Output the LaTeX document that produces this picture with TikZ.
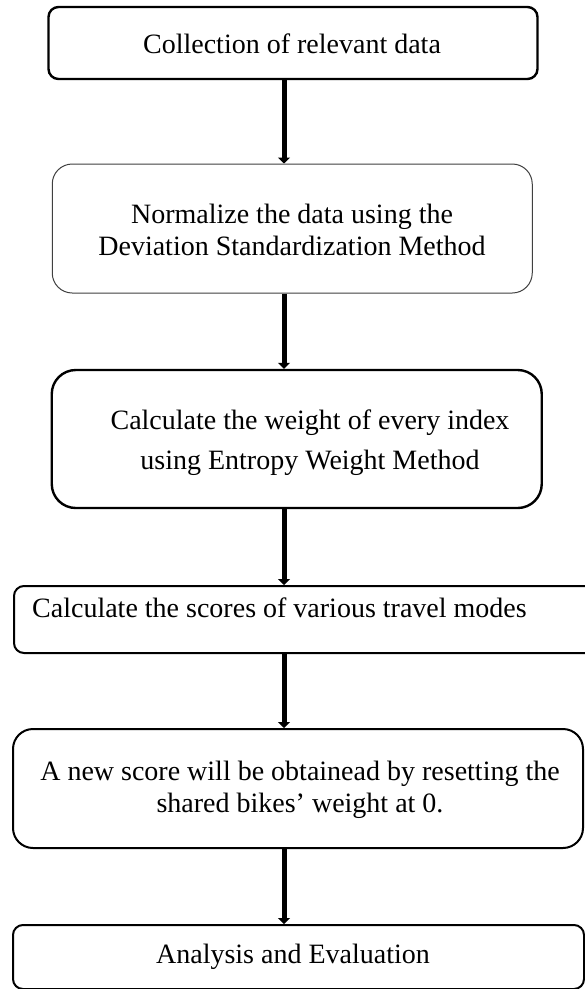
\documentclass[tikz,border=0pt]{standalone}
\usepackage{fontspec}
\setmainfont{Liberation Serif}
\usetikzlibrary{arrows.meta}
\begin{document}
\begin{tikzpicture}[x=1pt,y=-1pt,
  boxbase/.style={draw=black,rectangle,inner sep=0pt,fill=none},
  thickbox/.style={boxbase,line width=2.4pt},
  midbox/.style={boxbase,line width=2pt},
  thinbox/.style={boxbase,draw=black!75,line width=1pt},
  txt/.style={font=\fontsize{28}{32}\selectfont,inner sep=0pt,anchor=base},
  arr/.style={line width=5pt,-{Triangle[width=12pt,length=6pt]}}]
\clip (0,0) rectangle (585,989);
\fill[white] (0,0) rectangle (585,989);
\coordinate (ax) at (284,0);
% boxes
\node[thickbox,rounded corners=10pt,minimum width=489pt,minimum height=72pt] (b1) at (293,43) {};
\node[thinbox,rounded corners=20pt,minimum width=480pt,minimum height=129pt] (b2) at (292.25,228.5) {};
\node[thickbox,rounded corners=24pt,minimum width=490pt,minimum height=138pt] (b3) at (296.75,439) {};
\node[midbox,rounded corners=10pt,minimum width=586pt,minimum height=67pt] (b4) at (307,619.5) {};
\node[midbox,rounded corners=20pt,minimum width=570pt,minimum height=119pt] (b5) at (298,788.5) {};
\node[midbox,rounded corners=10pt,minimum width=571pt,minimum height=64pt] (b6) at (298.5,957) {};
% texts
\node[txt] (t1) at (292,53) {Collection of relevant data};
\node[txt] (t2a) at (292,223) {Normalize the data using the};
\node[txt] (t2b) at (292,255) {Deviation Standardization Method};
\node[txt] (t3a) at (310,429) {Calculate the weight of every index};
\node[txt] (t3b) at (310,469) {using Entropy Weight Method};
\node[txt,anchor=base west] (t4) at (32,617) {Calculate the scores of various travel modes};
\node[txt] (t5a) at (300,780) {A new score will be obtainead by resetting the};
\node[txt] (t5b) at (300,812) {shared bikes’ weight at 0.};
\node[txt] (t6) at (293,963) {Analysis and Evaluation};
% arrows
\draw[arr] (b1.south -| ax) -- (b2.north -| ax);
\draw[arr] (b2.south -| ax) -- (b3.north -| ax);
\draw[arr] (b3.south -| ax) -- (b4.north -| ax);
\draw[arr] (b4.south -| ax) -- (b5.north -| ax);
\draw[arr] (b5.south -| ax) -- (b6.north -| ax);
\end{tikzpicture}
\end{document}
